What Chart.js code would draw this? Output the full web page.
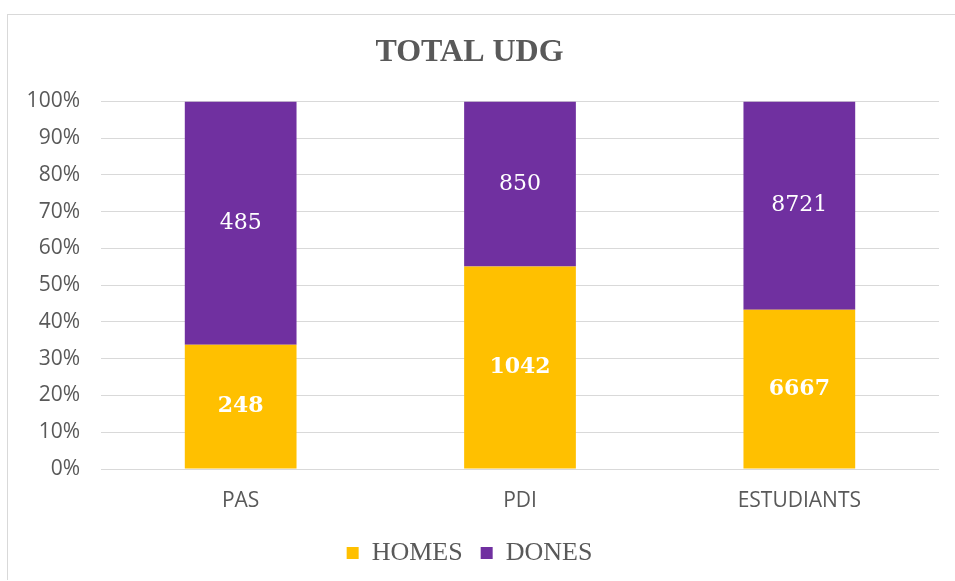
<!DOCTYPE html>
<html lang="ca">
<head>
    <meta charset="UTF-8"/>
    <title>Total UDG</title>
    <style>
        body { margin: 0; background: #fff; overflow: hidden; }
        #marc {
            position: absolute; left: 7px; top: 14px;
            width: 960px; height: 566px;
            border-left: 1px solid #d9d9d9; border-top: 1px solid #d9d9d9;
            box-sizing: border-box;
        }
        #grafic { position: absolute; left: 0; top: 0; }
    </style>
    <script src="https://cdn.jsdelivr.net/npm/chart.js"></script>
</head>
<body>
    <div id="marc"></div>
    <canvas id="grafic" width="955" height="581"></canvas>
    <script>
        // dades
        var categories = ['PAS', 'PDI', 'ESTUDIANTS'];
        var homes = [248, 1042, 6667];
        var dones = [485, 850, 8721];
        var etiquetesY = ['0%', '10%', '20%', '30%', '40%', '50%', '60%', '70%', '80%', '90%', '100%'];

        function percent(a, b) {
            return a.map(function (v, i) { return v / (a[i] + b[i]) * 100; });
        }

        // etiquetes dins de les barres
        var etiquetesBarres = {
            id: 'etiquetesBarres',
            afterDatasetsDraw: function (chart) {
                var ctx = chart.ctx;
                ctx.save();
                ctx.fillStyle = '#ffffff';
                ctx.textAlign = 'center';
                ctx.textBaseline = 'middle';
                chart.data.datasets.forEach(function (ds, d) {
                    ctx.font = (d === 0 ? 'bold ' : '') + '22px "DejaVu Serif"';
                    chart.getDatasetMeta(d).data.forEach(function (bar, i) {
                        var y = (bar.y + bar.base) / 2;
                        ctx.fillText(ds.valors[i], bar.x, y);
                    });
                });
                ctx.restore();
            }
        };

        var ctx = document.getElementById('grafic').getContext('2d');
        var grafic = new Chart(ctx, {
            type: 'bar',
            data: {
                labels: categories,
                datasets: [{
                    label: 'HOMES',
                    data: percent(homes, dones),
                    valors: homes,
                    backgroundColor: '#FFC000',
                    barPercentage: 0.4,
                    categoryPercentage: 1
                }, {
                    label: 'DONES',
                    data: percent(dones, homes),
                    valors: dones,
                    backgroundColor: '#7030A0',
                    barPercentage: 0.4,
                    categoryPercentage: 1
                }]
            },
            options: {
                responsive: false,
                animation: false,
                layout: { padding: { left: 0, right: 16, top: 0, bottom: 5 } },
                plugins: {
                    title: {
                        display: true,
                        text: 'TOTAL UDG',
                        color: '#595959',
                        font: { family: '"Liberation Serif"', size: 32, weight: 'bold' },
                        padding: { top: 34, bottom: 29 }
                    },
                    legend: {
                        position: 'bottom',
                        labels: {
                            color: '#595959',
                            font: { family: '"Liberation Serif"', size: 26 },
                            boxWidth: 12,
                            boxHeight: 12,
                            padding: 18
                        }
                    },
                    tooltip: { enabled: false }
                },
                scales: {
                    x: {
                        stacked: true,
                        afterFit: function (scale) { scale.height = 53; },
                        grid: { display: false, drawTicks: false },
                        border: { display: false },
                        ticks: {
                            color: '#595959',
                            font: { family: '"Open Sans"', size: 21 },
                            padding: 19
                        }
                    },
                    y: {
                        stacked: true,
                        min: 0,
                        max: 100,
                        afterFit: function (scale) { scale.width = 101; },
                        grid: { color: '#d9d9d9', drawTicks: false },
                        border: { display: false },
                        ticks: {
                            stepSize: 10,
                            padding: 21,
                            color: '#595959',
                            font: { family: '"Open Sans"', size: 21 },
                            callback: function (v, i) { return etiquetesY[i]; }
                        }
                    }
                }
            },
            plugins: [etiquetesBarres]
        });
    </script>
</body>
</html>
